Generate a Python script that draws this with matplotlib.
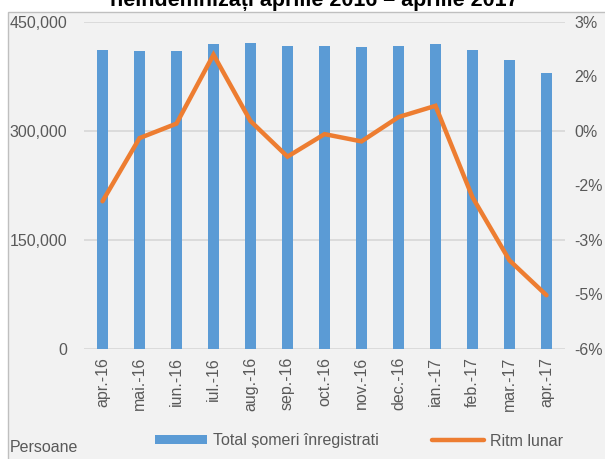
import numpy as np
import matplotlib
matplotlib.use('Agg')
import matplotlib.pyplot as plt
from matplotlib import font_manager
from matplotlib.patches import Rectangle, Patch
from matplotlib.lines import Line2D
from matplotlib.ticker import FuncFormatter

# data
months = ['apr.-16', 'mai.-16', 'iun.-16', 'iul.-16', 'aug.-16', 'sep.-16', 'oct.-16',
          'nov.-16', 'dec.-16', 'ian.-17', 'feb.-17', 'mar.-17', 'apr.-17']
total_someri = [410800, 409400, 410200, 419000, 420400, 416700, 416700,
                415700, 416700, 419800, 412100, 397300, 379200]
ritm_lunar = [-1.94, -0.20, 0.20, 2.10, 0.27, -0.71, -0.09,
              -0.29, 0.38, 0.69, -1.83, -3.57, -4.53]
left_ticks = [0, 150000, 300000, 450000]
right_ticks = [-6, -4.5, -3, -1.5, 0, 1.5, 3]
right_tick_labels = ['-6%', '-5%', '-3%', '-2%', '0%', '2%', '3%']

title = 'neindemnizați aprilie 2016 – aprilie 2017'
bar_label = 'Total șomeri înregistrati'
line_label = 'Ritm lunar'
unit_label = 'Persoane'

names = {f.name for f in font_manager.fontManager.ttflist}
fam = 'Liberation Sans Narrow' if 'Liberation Sans Narrow' in names else 'Liberation Sans'
plt.rcParams['font.family'] = [fam, 'DejaVu Sans']

BLUE = '#5b9bd5'
ORANGE = '#ed7d31'
GRID = '#d9d9d9'
TXT = '#595959'
BG = '#f2f2f2'
FS = 11.5

fig = plt.figure(figsize=(6.05, 4.59), dpi=100, facecolor='white')

# chart area box (the outer frame goes past the image edges)
box = Rectangle((8 / 605, -0.05), 1.0, 1 - 12 / 459 + 0.05,
                transform=fig.transFigure, facecolor=BG,
                edgecolor='#bfbfbf', linewidth=1.0, zorder=-10)
fig.add_artist(box)

ax = fig.add_axes([84 / 605, 1 - 348.6 / 459, (565 - 84) / 605, (348.6 - 22) / 459])
ax.set_facecolor('none')
x = np.arange(len(months))
ax.bar(x, total_someri, width=0.31, color=BLUE, zorder=2)
ax.set_ylim(0, 450000)
ax.set_xlim(-0.5, len(months) - 0.5)
ax.set_yticks(left_ticks)
ax.yaxis.set_major_formatter(FuncFormatter(lambda v, p: '{:,.0f}'.format(v)))
ax.grid(axis='y', color=GRID, linewidth=1.3, zorder=0)
ax.set_axisbelow(True)
for s in ax.spines.values():
    s.set_visible(False)
ax.set_xticks(x)
ax.set_xticklabels(months, rotation=90)
ax.tick_params(axis='both', length=0, colors=TXT, labelsize=FS)
ax.tick_params(axis='y', pad=12)
ax.tick_params(axis='x', pad=6)

ax2 = ax.twinx()
ax2.plot(x, ritm_lunar, color=ORANGE, linewidth=3.2, solid_capstyle='round',
         solid_joinstyle='miter', zorder=3)
ax2.set_ylim(-6, 3)
ax2.set_yticks(right_ticks)
ax2.set_yticklabels(right_tick_labels)
ax2.tick_params(axis='y', length=0, colors=TXT, labelsize=FS, pad=7)
for s in ax2.spines.values():
    s.set_visible(False)

fig.text(0.52, 1 - 6 / 459, title, ha='center', va='baseline',
         fontsize=15.5, fontweight='bold', color='black')
fig.text(10 / 605, 1 - 452 / 459, unit_label, ha='left', va='baseline',
         fontsize=FS, color=TXT)

handles = [Patch(facecolor=BLUE, edgecolor='none'),
           Line2D([0], [0], color=ORANGE, linewidth=3.2, solid_capstyle='round')]
leg = fig.legend(handles, [bar_label, line_label], loc='center left',
                 bbox_to_anchor=(141 / 605, 1 - 441 / 459), ncol=2, frameon=False,
                 fontsize=FS, handlelength=3.25, handleheight=0.5, handletextpad=0.35,
                 columnspacing=3.35, labelcolor=TXT)

fig.savefig('out.png', dpi=100, facecolor='white')
